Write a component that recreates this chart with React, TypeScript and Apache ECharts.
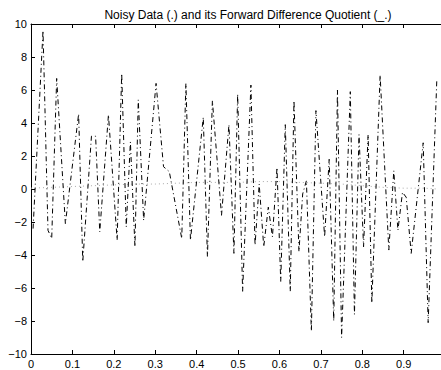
import React, { useEffect, useRef } from "react";
import * as echarts from "echarts";

const titleText = "Noisy Data (.) and its Forward Difference Quotient (_.)";

const quotientX = [
  0.005, 0.029, 0.041, 0.05, 0.062, 0.083, 0.115, 0.125, 0.146, 0.156,
  0.166, 0.187, 0.208, 0.219, 0.23, 0.24, 0.251, 0.259, 0.272, 0.302,
  0.32, 0.334, 0.364, 0.374, 0.385, 0.416, 0.426, 0.438, 0.46, 0.478,
  0.49, 0.499, 0.511, 0.531, 0.541, 0.551, 0.562, 0.573, 0.583, 0.594,
  0.603, 0.614, 0.626, 0.635, 0.647, 0.656, 0.665, 0.677, 0.688, 0.709,
  0.72, 0.731, 0.74, 0.75, 0.771, 0.781, 0.792, 0.803, 0.814, 0.823,
  0.843, 0.864, 0.876, 0.886, 0.897, 0.906, 0.918, 0.947, 0.959, 0.98,
];
const quotientY = [
  -2.4, 9.6, -2.5, -3.0, 6.7, -2.1, 4.55, -4.4, 3.2, 3.2,
  -2.6, 4.5, -3.1, 7.0, -2.3, 2.85, -3.5, 5.4, -1.9, 6.4,
  1.35, 1.05, -3.0, 6.4, -3.1, 4.35, -4.1, 5.35, -1.6, 3.9,
  -3.9, 5.75, -6.2, 6.3, -3.4, 0.3, -3.5, -1.1, -2.9, 1.3,
  -5.6, 3.9, -6.2, 5.35, -3.8, -0.3, 0.5, -8.6, 4.75, -2.9,
  1.8, -8.0, 6.0, -9.0, 5.9, -7.6, 3.3, -3.5, 3.3, -6.9,
  6.9, -3.7, 1.1, -2.5, -0.2, -0.5, -3.9, 2.8, -8.1, 6.7,
];

const noisyX = [
  0, 0.05, 0.1, 0.15, 0.2, 0.25, 0.3, 0.35, 0.4, 0.45, 0.5,
  0.55, 0.6, 0.65, 0.7, 0.75, 0.8, 0.85, 0.9, 0.95, 0.98,
];
const noisyY = [
  0.05, 0.1, 0.15, 0.2, 0.25, 0.3, 0.3, 0.35, 0.4, 0.4, 0.4,
  0.45, 0.45, 0.4, 0.35, 0.3, 0.2, 0.1, 0.05, 0.05, 0.0,
];

const xTicks = [0, 0.1, 0.2, 0.3, 0.4, 0.5, 0.6, 0.7, 0.8, 0.9];
const yTicks = [-10, -8, -6, -4, -2, 0, 2, 4, 6, 8, 10];

const FONT = "Liberation Sans, Arial, sans-serif";

export default function App() {
  const ref = useRef<HTMLDivElement>(null);
  useEffect(() => {
    if (!ref.current) return;
    const chart = echarts.init(ref.current, undefined, { renderer: "svg" });
    const axisCommon = {
      axisLine: { show: true, onZero: false, lineStyle: { color: "#000", width: 1 } },
      axisTick: { show: true, inside: true, length: 4, lineStyle: { color: "#000" } },
      splitLine: { show: false },
    };
    chart.setOption({
      animation: false,
      backgroundColor: "#fff",
      title: {
        text: titleText,
        left: 243,
        top: 4,
        textAlign: "center",
        textStyle: { fontSize: 12, fontWeight: "normal", fontFamily: FONT, color: "#000" },
      },
      grid: { left: 31, top: 24, width: 412, height: 330, containLabel: false },
      xAxis: [
        {
          type: "value",
          min: 0,
          max: 0.99,
          interval: 0.1,
          position: "bottom",
          ...axisCommon,
          axisLabel: {
            fontSize: 11,
            fontFamily: FONT,
            color: "#000",
            margin: 4,
            showMaxLabel: false,
            formatter: (v: number) => {
              const t = xTicks.find((k) => Math.abs(k - v) < 1e-6);
              return t === undefined ? "" : String(t);
            },
          },
        },
        {
          type: "value",
          min: 0,
          max: 0.99,
          interval: 0.1,
          position: "top",
          ...axisCommon,
          axisLabel: { show: false },
        },
      ],
      yAxis: [
        {
          type: "value",
          min: -10,
          max: 10,
          interval: 2,
          position: "left",
          ...axisCommon,
          axisLabel: {
            fontSize: 11,
            fontFamily: FONT,
            color: "#000",
            margin: 4,
            formatter: (v: number) => {
              const t = yTicks.find((k) => Math.abs(k - v) < 1e-6);
              return t === undefined ? "" : String(t).replace("-", "\u2212");
            },
          },
        },
      ],
      series: [
        {
          type: "line",
          name: "Noisy Data",
          data: noisyX.map((x, i) => [x, noisyY[i]]),
          symbol: "none",
          smooth: false,
          lineStyle: { color: "#aaaaaa", width: 1, type: [1, 3] },
          z: 2,
        },
        {
          type: "line",
          name: "Forward Difference Quotient",
          data: quotientX.map((x, i) => [x, quotientY[i]]),
          symbol: "none",
          smooth: false,
          lineStyle: { color: "#000", width: 1, type: [5, 3, 1, 3] },
          z: 3,
        },
      ],
    });
    return () => chart.dispose();
  }, []);
  return (
    <div
      ref={ref}
      style={{ position: "fixed", left: 0, top: 0, width: 441, height: 370, background: "#fff" }}
    />
  );
}
